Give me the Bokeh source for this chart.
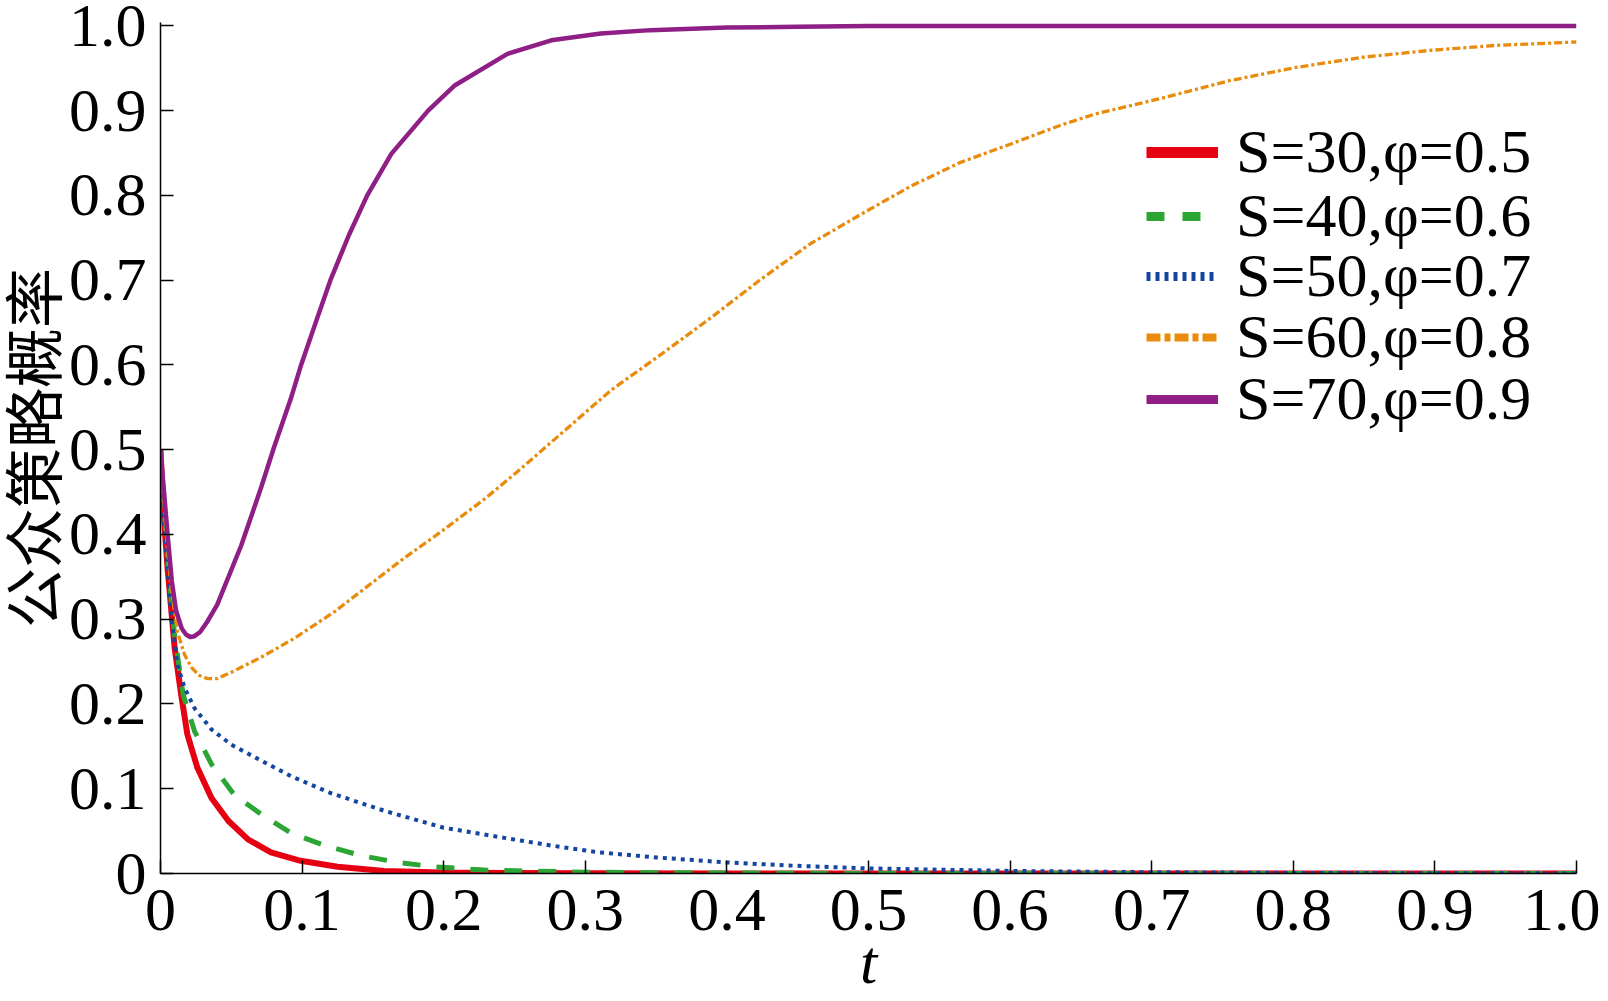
from bokeh.plotting import figure
from bokeh.models import Range1d, FixedTicker, CustomJSTickFormatter, Legend, LegendItem
from bokeh.embed import file_html
from bokeh.resources import INLINE

# ---------------- data ----------------
labels = ["S=30,φ=0.5", "S=40,φ=0.6", "S=50,φ=0.7", "S=60,φ=0.8", "S=70,φ=0.9"]

t_s30 = [0, 0.002, 0.005, 0.01, 0.0146, 0.019, 0.026, 0.036, 0.048, 0.062, 0.078, 0.099,
         0.125, 0.158, 0.205, 0.25, 0.3, 0.4, 0.5, 0.6, 0.7, 0.8, 0.9, 1.0]
y_s30 = [0.5, 0.43, 0.36, 0.266, 0.211, 0.164, 0.125, 0.089, 0.062, 0.040, 0.025, 0.015,
         0.008, 0.003, 0.001, 0.0005, 0.0002, 0, 0, 0, 0, 0, 0, 0]

t_s40 = [0, 0.003, 0.006, 0.01, 0.016, 0.024, 0.036, 0.052, 0.071, 0.092, 0.116, 0.142,
         0.168, 0.193, 0.229, 0.3, 0.4, 0.5, 0.6, 0.7, 0.8, 0.9, 1.0]
y_s40 = [0.5, 0.42, 0.35, 0.28, 0.211, 0.168, 0.129, 0.093, 0.070, 0.048, 0.033, 0.021,
         0.013, 0.008, 0.004, 0.0015, 0.0005, 0, 0, 0, 0, 0, 0]

t_s50 = [0, 0.003, 0.0075, 0.012, 0.017, 0.024, 0.036, 0.050, 0.069, 0.092, 0.120, 0.158,
         0.200, 0.243, 0.276, 0.309, 0.35, 0.4, 0.45, 0.5, 0.6, 0.7, 0.8, 0.9, 1.0]
y_s50 = [0.5, 0.40, 0.305, 0.246, 0.219, 0.195, 0.170, 0.152, 0.135, 0.115, 0.095, 0.074,
         0.054, 0.042, 0.033, 0.025, 0.019, 0.013, 0.009, 0.006, 0.003, 0.0015, 0.0007, 0.0003, 0.0001]

t_s60 = [0, 0.004, 0.0075, 0.012, 0.017, 0.022, 0.027, 0.033, 0.040, 0.052, 0.071, 0.095,
         0.123, 0.144, 0.172, 0.198, 0.229, 0.252, 0.283, 0.318, 0.354, 0.389, 0.424, 0.459,
         0.495, 0.530, 0.565, 0.601, 0.636, 0.660, 0.708, 0.754, 0.802, 0.849, 0.896, 0.943, 1.0]
y_s60 = [0.5, 0.40, 0.336, 0.285, 0.258, 0.243, 0.234, 0.230, 0.230, 0.239, 0.255, 0.278,
         0.309, 0.336, 0.372, 0.403, 0.442, 0.474, 0.519, 0.570, 0.613, 0.656, 0.701, 0.743,
         0.778, 0.811, 0.839, 0.861, 0.883, 0.896, 0.915, 0.935, 0.951, 0.963, 0.971, 0.977, 0.981]

t_s70 = [0, 0.003, 0.005, 0.008, 0.011, 0.015, 0.018, 0.021, 0.024, 0.028, 0.033, 0.040,
         0.057, 0.071, 0.080, 0.092, 0.0993, 0.110, 0.120, 0.133, 0.146, 0.163, 0.189, 0.208,
         0.245, 0.276, 0.311, 0.346, 0.40, 0.45, 0.5, 0.6, 0.7, 0.8, 0.9, 1.0]
y_s70 = [0.5, 0.44, 0.40, 0.345, 0.31, 0.289, 0.282, 0.279, 0.280, 0.285, 0.297, 0.317,
         0.387, 0.455, 0.502, 0.560, 0.600, 0.652, 0.700, 0.753, 0.800, 0.849, 0.900, 0.930,
         0.967, 0.983, 0.991, 0.995, 0.998, 0.999, 1.0, 1.0, 1.0, 1.0, 1.0, 1.0]

x_ticks = [0, 0.1, 0.2, 0.3, 0.4, 0.5, 0.6, 0.7, 0.8, 0.9, 1.0]
y_ticks = [0, 0.1, 0.2, 0.3, 0.4, 0.5, 0.6, 0.7, 0.8, 0.9, 1.0]
x_title = "t"
y_title = "公众策略概率"

# ---------------- styles ----------------
colors = ["#E50012", "#2BA635", "#1446A0", "#E98B0C", "#8F1F84"]
widths = [6, 5, 4, 3.3, 4.5]
dashes = ["solid", "18 16", "4 5", "8 3 3 3", "solid"]
leg_widths = [11, 9, 9, 8, 9]
leg_dashes = ["solid", "18 18", "4 5", "14 4 6 4", "solid"]
# legend row offsets (px from the bottom of the plot frame)
leg_rows = [686, 622, 562, 501, 439]

SERIF = "Liberation Serif"
NAN = float("nan")

p = figure(width=1600, height=1000, title=None,
           x_range=Range1d(0, 1.0), y_range=Range1d(0, 1.004),
           output_backend="svg", toolbar_location=None,
           min_border_left=159, min_border_right=24,
           min_border_top=22, min_border_bottom=127)
p.outline_line_color = None
p.xgrid.visible = False
p.ygrid.visible = False
p.background_fill_color = "white"
p.border_fill_color = "white"

series = [(t_s30, y_s30), (t_s40, y_s40), (t_s50, y_s50), (t_s60, y_s60), (t_s70, y_s70)]
for i, (tx, ty) in enumerate(series):
    p.line(tx, ty, line_color=colors[i], line_width=widths[i], line_dash=dashes[i],
           line_join="round")
for i in range(len(series)):
    dummy = p.line([NAN], [NAN], line_color=colors[i], line_width=leg_widths[i],
                   line_dash=leg_dashes[i])
    leg = Legend(items=[LegendItem(label=labels[i], renderers=[dummy])],
                 location=(986, leg_rows[i]), padding=0, margin=0, spacing=0,
                 glyph_width=72, glyph_height=62, label_height=62, label_standoff=18,
                 label_text_font=SERIF, label_text_font_size="62px",
                 label_text_color="black", border_line_color=None,
                 background_fill_alpha=0)
    p.add_layout(leg, "center")

fmt_code = "return tick == 0 ? '0' : tick.toFixed(1);"
for ax, ticks in ((p.xaxis, x_ticks), (p.yaxis, y_ticks)):
    ax.ticker = FixedTicker(ticks=ticks)
    ax.formatter = CustomJSTickFormatter(code=fmt_code)
    ax.major_tick_in = 13
    ax.major_tick_out = 0
    ax.minor_tick_in = 0
    ax.minor_tick_out = 0
    ax.axis_line_color = "black"
    ax.axis_line_width = 1.5
    ax.major_tick_line_color = "black"
    ax.major_tick_line_width = 1.5
    ax.major_label_text_font = SERIF
    ax.major_label_text_font_size = "62px"
    ax.major_label_text_color = "black"
p.xaxis.major_label_standoff = 16
p.yaxis.major_label_standoff = 14

p.xaxis.axis_label = x_title
p.xaxis.axis_label_text_font = SERIF
p.xaxis.axis_label_text_font_style = "italic"
p.xaxis.axis_label_text_font_size = "62px"
p.xaxis.axis_label_text_color = "black"
p.xaxis.axis_label_standoff = -5

p.yaxis.axis_label = y_title
p.yaxis.axis_label_text_font = "Liberation Serif, Noto Sans CJK SC"
p.yaxis.axis_label_text_font_style = "normal"
p.yaxis.axis_label_text_font_size = "60px"
p.yaxis.axis_label_text_color = "black"
p.yaxis.axis_label_text_baseline = "bottom"
p.yaxis.axis_label_standoff = -4

open("out.html", "w").write(file_html(p, INLINE))
